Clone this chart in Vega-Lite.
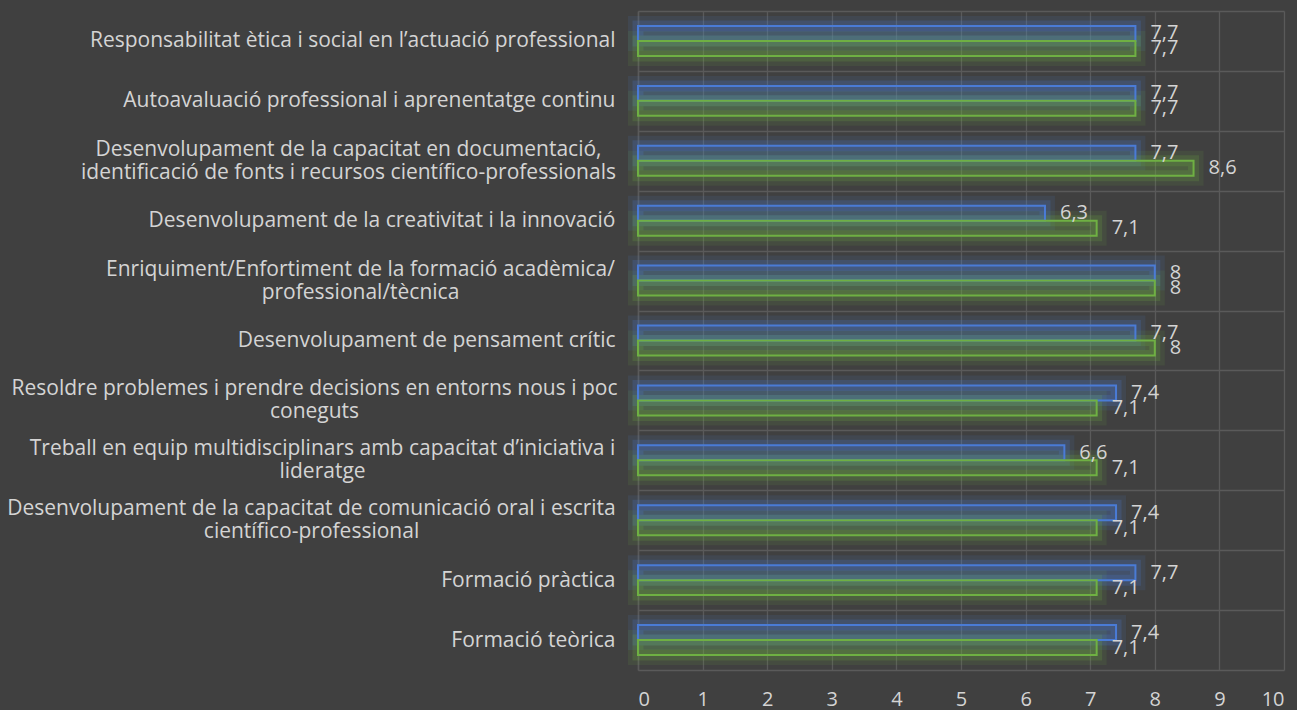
{
  "$schema": "https://vega.github.io/schema/vega-lite/v6.json",
  "width": 646,
  "height": 659,
  "autosize": "none",
  "padding": {"left": 638, "top": 11, "right": 13, "bottom": 40},
  "background": "#404040",
  "config": {
    "locale": {"number": {"decimal": ",", "thousands": ".", "grouping": [3], "currency": ["", " €"]}},
    "view": {"stroke": null},
    "font": "Open Sans"
  },
  "data": {
    "values": [
      {"competencia": "Responsabilitat ètica i social en l’actuació professional", "serie": "Sèrie 1", "valor": 7.7},
      {"competencia": "Responsabilitat ètica i social en l’actuació professional", "serie": "Sèrie 2", "valor": 7.7},
      {"competencia": "Autoavaluació professional i aprenentatge continu", "serie": "Sèrie 1", "valor": 7.7},
      {"competencia": "Autoavaluació professional i aprenentatge continu", "serie": "Sèrie 2", "valor": 7.7},
      {"competencia": "Desenvolupament de la capacitat en documentació,\nidentificació de fonts i recursos científico-professionals", "serie": "Sèrie 1", "valor": 7.7},
      {"competencia": "Desenvolupament de la capacitat en documentació,\nidentificació de fonts i recursos científico-professionals", "serie": "Sèrie 2", "valor": 8.6},
      {"competencia": "Desenvolupament de la creativitat i la innovació", "serie": "Sèrie 1", "valor": 6.3},
      {"competencia": "Desenvolupament de la creativitat i la innovació", "serie": "Sèrie 2", "valor": 7.1},
      {"competencia": "Enriquiment/Enfortiment de la formació acadèmica/\nprofessional/tècnica", "serie": "Sèrie 1", "valor": 8},
      {"competencia": "Enriquiment/Enfortiment de la formació acadèmica/\nprofessional/tècnica", "serie": "Sèrie 2", "valor": 8},
      {"competencia": "Desenvolupament de pensament crític", "serie": "Sèrie 1", "valor": 7.7},
      {"competencia": "Desenvolupament de pensament crític", "serie": "Sèrie 2", "valor": 8},
      {"competencia": "Resoldre problemes i prendre decisions en entorns nous i poc\nconeguts", "serie": "Sèrie 1", "valor": 7.4},
      {"competencia": "Resoldre problemes i prendre decisions en entorns nous i poc\nconeguts", "serie": "Sèrie 2", "valor": 7.1},
      {"competencia": "Treball en equip multidisciplinars amb capacitat d’iniciativa i\nlideratge", "serie": "Sèrie 1", "valor": 6.6},
      {"competencia": "Treball en equip multidisciplinars amb capacitat d’iniciativa i\nlideratge", "serie": "Sèrie 2", "valor": 7.1},
      {"competencia": "Desenvolupament de la capacitat de comunicació oral i escrita\ncientífico-professional", "serie": "Sèrie 1", "valor": 7.4},
      {"competencia": "Desenvolupament de la capacitat de comunicació oral i escrita\ncientífico-professional", "serie": "Sèrie 2", "valor": 7.1},
      {"competencia": "Formació pràctica", "serie": "Sèrie 1", "valor": 7.7},
      {"competencia": "Formació pràctica", "serie": "Sèrie 2", "valor": 7.1},
      {"competencia": "Formació teòrica", "serie": "Sèrie 1", "valor": 7.4},
      {"competencia": "Formació teòrica", "serie": "Sèrie 2", "valor": 7.1}
    ]
  },
  "encoding": {
    "y": {
      "field": "competencia",
      "type": "nominal",
      "sort": null,
      "scale": {"paddingInner": 0, "paddingOuter": 0},
      "axis": {
        "title": null,
        "labelExpr": "split(datum.label, '\\n')",
        "labelFont": "Open Sans",
        "labelFontSize": 21,
        "labelColor": "#d4d4d4",
        "labelLineHeight": 23,
        "labelAlign": {"condition": {"test": "indexof(datum.label, '\\n') >= 0", "value": "center"}, "value": "right"},
        "labelOffset": {"condition": {"test": "indexof(datum.label, '\\n') >= 0", "value": -11.5}, "value": 0},
        "labelPadding": {"condition": [
          {"test": "indexof(datum.label, 'documentació,') >= 0", "value": 290},
          {"test": "indexof(datum.label, 'Enriquiment') >= 0", "value": 278},
          {"test": "indexof(datum.label, 'Resoldre') >= 0", "value": 324},
          {"test": "indexof(datum.label, 'Treball') >= 0", "value": 316},
          {"test": "indexof(datum.label, 'oral i escrita') >= 0", "value": 327}
        ], "value": 23},
        "labelLimit": 700,
        "ticks": false,
        "tickBand": "extent",
        "grid": true,
        "gridColor": "#5a5a5a",
        "gridWidth": 1.3,
        "domain": true,
        "domainColor": "#5a5a5a",
        "domainWidth": 1.5
      }
    },
    "yOffset": {"field": "serie", "sort": ["Sèrie 1", "Sèrie 2"], "scale": {"paddingInner": 0, "paddingOuter": 1.6}},
    "x": {
      "field": "valor",
      "type": "quantitative",
      "scale": {"domain": [0, 10], "nice": false},
      "axis": {
        "title": null,
        "values": [0, 1, 2, 3, 4, 5, 6, 7, 8, 9, 10],
        "labelFont": "Open Sans",
        "labelFontSize": 20,
        "labelColor": "#d4d4d4",
        "labelPadding": 19,
        "ticks": false,
        "domain": false,
        "grid": true,
        "gridColor": "#5a5a5a",
        "gridWidth": 1.3
      }
    }
  },
  "layer": [
    {
      "mark": {"type": "bar", "fillOpacity": 0, "strokeWidth": 20, "strokeOpacity": 0.11},
      "encoding": {
        "stroke": {"field": "serie", "type": "nominal", "scale": {"domain": ["Sèrie 1", "Sèrie 2"], "range": ["#4a7bd6", "#6fb043"]}, "legend": null}
      }
    },
    {
      "mark": {"type": "bar", "fillOpacity": 0, "strokeWidth": 11, "strokeOpacity": 0.2},
      "encoding": {
        "stroke": {"field": "serie", "type": "nominal", "legend": null}
      }
    },
    {
      "mark": {"type": "bar", "fillOpacity": 0.2, "strokeWidth": 2, "strokeOpacity": 1},
      "encoding": {
        "fill": {"field": "serie", "type": "nominal", "scale": {"domain": ["Sèrie 1", "Sèrie 2"], "range": ["#4a7bd6", "#6fb043"]}, "legend": null},
        "stroke": {"field": "serie", "type": "nominal", "legend": null}
      }
    },
    {
      "mark": {"type": "text", "align": "left", "baseline": "middle", "dx": 15, "font": "Open Sans", "fontSize": 20, "color": "#d4d4d4"},
      "encoding": {
        "text": {"field": "valor", "type": "quantitative", "format": "~g"}
      }
    }
  ]
}
